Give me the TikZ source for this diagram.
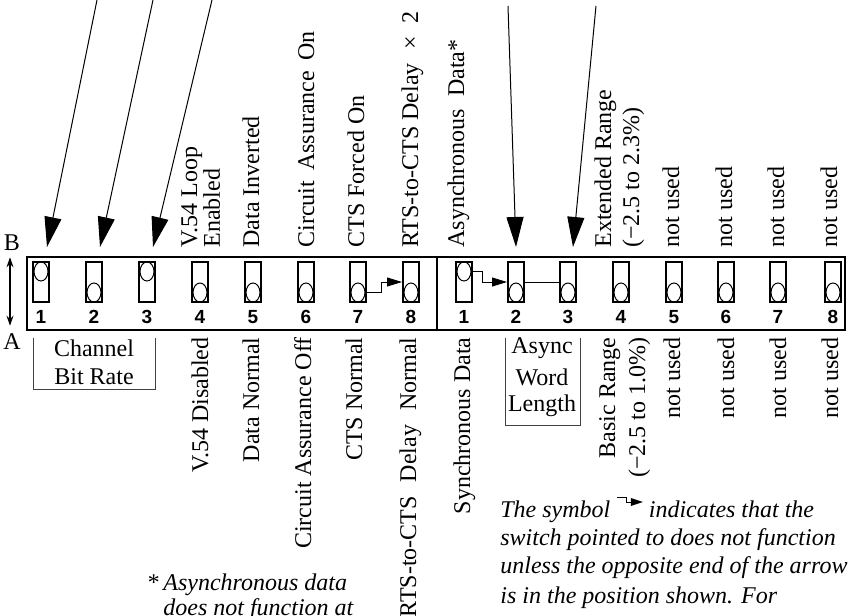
\documentclass[tikz,border=0pt]{standalone}
\usepackage{fontspec}
\setmainfont{Liberation Serif}
\newfontfamily\numfont{Liberation Sans}
\usetikzlibrary{shapes.geometric,arrows.meta}
\begin{document}
\begin{tikzpicture}[x=0.5pt,y=-0.5pt,
  lbl/.style={rotate=90, inner sep=0pt, font=\fontsize{12}{14}\selectfont},
  toplbl/.style={lbl, anchor=base west},
  botlbl/.style={lbl, anchor=base east},
  plain/.style={inner sep=0pt, font=\fontsize{12}{14}\selectfont},
  note/.style={inner sep=0pt, anchor=base west, font=\fontsize{12}{14}\selectfont\itshape},
  sw/.style={draw, line width=1pt, minimum width=8pt, minimum height=20pt, inner sep=0pt},
  knob/.style={draw, ellipse, line width=0.5pt, minimum width=7pt, minimum height=9.5pt, inner sep=0pt},
  num/.style={font=\fontsize{9.5}{11}\numfont\bfseries, inner sep=0pt},
  big/.style={line width=0.5pt, -{Triangle[length=15pt,width=8.5pt]}},
  small/.style={line width=0.5pt, -{Triangle[length=7.5pt,width=4.5pt]}},
  dbl/.style={line width=0.6pt, {Stealth[length=5pt,width=3.5pt]}-{Stealth[length=5pt,width=3.5pt]}},
  bracket/.style={line width=0.5pt, draw=black!75},
  panel/.style={line width=1pt}
]
\useasboundingbox (0,0) rectangle (848,616);
\clip (0,0) rectangle (848,616);

% panel
\draw[panel] (27,257) rectangle (845,330);
\draw[panel] (437,257) -- (437,330);

% left group switches
\foreach \x/\ky [count=\i] in {41/271.5,94/292.5,147/271.5,200/292.5,253/292.5,306/292.5,358/292.5,411/292.5}{
  \node[sw] (s\i) at (\x,282) {};
  \node[knob] (k\i) at (\x,\ky) {};
  \node[num] (n\i) at (\x,317) {\i};
}
% right group switches
\foreach \x/\ky [count=\i] in {464/271.5,516/292.5,568/292.5,621/292.5,674/292.5,726/292.5,778/292.5,833/292.5}{
  \node[sw] (t\i) at (\x,282) {};
  \node[knob] (q\i) at (\x,\ky) {};
  \node[num] (m\i) at (\x,317) {\i};
}

% dependency connectors
\draw[small] (s7.east |- k7) -- ++(14,0) |- (s8.west);
\draw[small] (t1.east |- q1) -- ++(9,0) |- (t2.west);
\draw[line width=0.5pt] (t2.east) -- (t3.west);

% A / B
\node[plain] (B) at (12,243) {B};
\node[plain] (A) at (12,342) {A};
\draw[dbl] ([xshift=-1pt,yshift=-3pt]B.south) -- ([xshift=-1pt,yshift=4pt]A.north);

% long arrows
\coordinate (a1s) at (97,0);  \coordinate (a1e) at (47,247);
\coordinate (a2s) at (153,0); \coordinate (a2e) at (100,247);
\coordinate (a3s) at (212,0); \coordinate (a3e) at (153,247);
\coordinate (a4s) at (508,6); \coordinate (a4e) at (516,247);
\coordinate (a5s) at (596,6); \coordinate (a5e) at (573,247);
\foreach \k in {1,...,5}{\draw[big] (a\k s) -- (a\k e);}

% top labels
\node[toplbl] (u1) at (197,248) {V.54 Loop};
\node[toplbl] (u2) at (220,248) {Enabled};
\node[toplbl] (u3) at (259,248) {Data Inverted};
\node[toplbl] (u4) at (314,248) {Circuit\hspace{2pt} Assurance\hspace{2pt} On};
\node[toplbl] (u5) at (364,248) {CTS Forced On};
\node[toplbl] (u6) at (418,248) {RTS-to-CTS Delay\hspace{4pt} ×\hspace{3pt} 2};
\node[toplbl] (u7) at (464,248) {Asynchronous\hspace{3pt} Data*};
\node[toplbl] (u8) at (611,248) {Extended Range};
\node[toplbl] (u9) at (639,248) {(−2.5 to 2.3\%)};
\node[toplbl] (u10) at (679,248) {not used};
\node[toplbl] (u11) at (732,248) {not used};
\node[toplbl] (u12) at (784,248) {not used};
\node[toplbl] (u13) at (837,248) {not used};

% bottom labels
\node[botlbl] (d1) at (208,337) {V.54 Disabled};
\node[botlbl] (d2) at (259,337) {Data Normal};
\node[botlbl] (d3) at (311,337) {Circuit Assurance Off};
\node[botlbl] (d4) at (362,337) {CTS Normal};
\node[botlbl] (d5) at (416,337) {RTS-to-CTS\hspace{4pt} Delay\hspace{4pt} Normal};
\node[botlbl] (d6) at (470,337) {Synchronous Data};
\node[botlbl] (d7) at (615,337) {Basic Range};
\node[botlbl] (d8) at (645,337) {(−2.5 to 1.0\%)};
\node[botlbl] (d9) at (680,337) {not used};
\node[botlbl] (d10) at (734,337) {not used};
\node[botlbl] (d11) at (786,337) {not used};
\node[botlbl] (d12) at (838,337) {not used};

% group brackets
\node[plain] (cb1) at (94,348) {Channel};
\node[plain] (cb2) at (94,377) {Bit Rate};
\draw[bracket] (33,338) -- (33,389) -- (155,389) -- (155,338);
\node[plain] (aw1) at (542,348) {Async};
\node[plain] (aw2) at (542,377) {Word};
\node[plain] (aw3) at (542,406) {Length};
\draw[bracket] (505,338) -- (505,425) -- (580,425) -- (580,338);

% notes
\node[note, anchor=base east] (ast) at (163,590) {*\,};
\node[note] (l1) at (163,590) {Asynchronous data};
\node[note] (l2) at (163,615) {does not function at};

\node[note] (r1) at (500,517) {The symbol \tikz[baseline=0pt]{\draw[line width=0.45pt] (0pt,10pt) -- (5pt,10pt) -- (5pt,7.5pt) -- (7pt,7.5pt); \fill (7pt,5.5pt) -- (13pt,7.5pt) -- (7pt,9.5pt) -- cycle;} indicates that the};
\node[note] (r2) at (500,545) {switch pointed to does not function};
\node[note] (r3) at (500,573) {unless the opposite end of the arrow};
\node[note] (r4) at (500,603) {is in the position shown. For};
\end{tikzpicture}
\end{document}
